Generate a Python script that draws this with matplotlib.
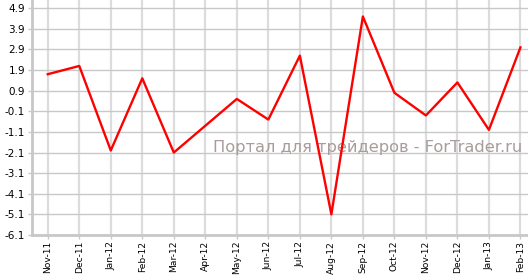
import matplotlib
matplotlib.use('Agg')
import matplotlib.pyplot as plt

months = ['Nov-11', 'Dec-11', 'Jan-12', 'Feb-12', 'Mar-12', 'Apr-12', 'May-12', 'Jun-12',
          'Jul-12', 'Aug-12', 'Sep-12', 'Oct-12', 'Nov-12', 'Dec-12', 'Jan-13', 'Feb-13']
values = [1.7, 2.1, -2.0, 1.5, -2.1, -0.8, 0.5, -0.5,
          2.6, -5.1, 4.5, 0.8, -0.3, 1.3, -1.0, 3.0]
yticks = [4.9, 3.9, 2.9, 1.9, 0.9, -0.1, -1.1, -2.1, -3.1, -4.1, -5.1, -6.1]
watermark = 'Портал для трейдеров - ForTrader.ru'

fig = plt.figure(figsize=(5.28, 2.75), dpi=100)
ax = fig.add_axes([32 / 528, 40 / 275, 1 - 32 / 528, 1 - 40 / 275])

x = list(range(len(months)))
ax.plot(x, values, color='#ff0000', linewidth=1.7, zorder=3)

ax.set_xlim(-0.5, 15.24)
ax.set_ylim(-6.1, 5.3)
ax.set_xticks(x)
ax.set_xticklabels(months, rotation=90, fontsize=6.6)
ax.set_yticks(yticks)
ax.set_yticklabels(['%.1f' % v for v in yticks], fontsize=7.5)

ax.xaxis.grid(True, color='#dcdcdc', linewidth=1.6, zorder=0)
ax.yaxis.grid(True, color='#c8c8c8', linewidth=1.0, zorder=0)
ax.set_axisbelow(True)

for s in ['top', 'right']:
    ax.spines[s].set_visible(False)
for s in ['left', 'bottom']:
    ax.spines[s].set_color('#c8c8c8')
    ax.spines[s].set_linewidth(2)

ax.tick_params(axis='both', length=3, color='#c8c8c8', width=1, pad=2, labelcolor='black')
ax.tick_params(axis='x', pad=1.2)

ax.text(15.05, -1.85, watermark, ha='right', va='center',
        fontsize=11.7, color='#a89c9c', zorder=2)

fig.savefig('out.png', dpi=100)
